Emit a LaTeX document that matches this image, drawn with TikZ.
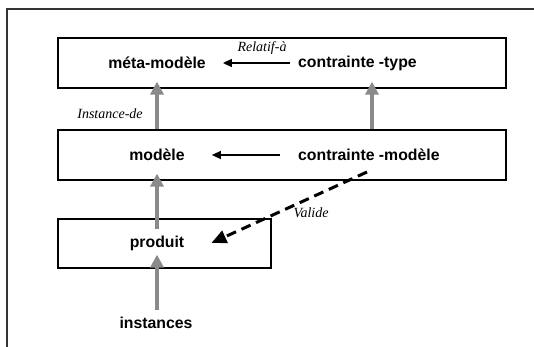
\documentclass[tikz,border=0pt]{standalone}
\usepackage{fontspec}
\setmainfont{Liberation Serif}
\setsansfont{Liberation Sans}
\usetikzlibrary{arrows.meta}
\definecolor{arrgray}{HTML}{8A8A8A}
\begin{document}
\begin{tikzpicture}[x=1pt,y=-1pt,
  box/.style={draw=black,line width=1.6pt,inner sep=0pt,anchor=north west},
  lbl/.style={font=\sffamily\bfseries\fontsize{15.8}{18}\selectfont,inner sep=0pt},
  itl/.style={font=\itshape\fontsize{14}{16}\selectfont,inner sep=0pt},
  garrow/.style={draw=arrgray,line width=4pt,-{Triangle[length=13pt,width=13pt,fill=arrgray]}},
  tarrow/.style={draw=black,line width=1.3pt,-{Triangle[length=9pt,width=8pt]}},
  darrow/.style={draw=black,line width=3pt,dash pattern=on 10pt off 6pt,-{Triangle[length=15pt,width=13pt]}}]
\useasboundingbox (0,0) rectangle (534,347);
\draw[line width=2pt,draw=black!80] (534,9) -- (7,9) -- (7,347);
% boxes
\node[box,minimum width=448pt,minimum height=50pt] (b1) at (57,37) {};
\node[box,minimum width=448pt,minimum height=50pt] (b2) at (57,129) {};
\node[box,minimum width=213pt,minimum height=49pt] (b3) at (57,218) {};
% texts
\node[lbl] (mm) at (157,63) {méta-modèle};
\node[lbl,anchor=west] (ct) at (298,63) {contrainte -type};
\node[lbl] (m) at (157,155) {modèle};
\node[lbl,anchor=west] (cm) at (298,155) {contrainte -modèle};
\node[lbl] (p) at (157,243) {produit};
\node[lbl] (inst) at (156,323) {instances};
\node[itl] (rel) at (262,48) {Relatif-à};
\node[itl] (ins) at (110,114) {Instance-de};
\node[itl] (val) at (311,213) {Valide};
% helper coordinates
\coordinate (rx) at (372,0);
\coordinate (ds) at (367,172);
% thin arrows
\draw[tarrow] ([xshift=-8pt]ct.west) -- ([xshift=17pt]mm.east);
\draw[tarrow] ([xshift=-18pt]cm.west) -- ([xshift=27pt]m.east);
% gray arrows
\draw[garrow] (b2.north -| mm) -- ([yshift=7pt]b1.south -| mm);
\draw[garrow] (b2.north -| rx) -- ([yshift=7pt]b1.south -| rx);
\draw[garrow] ([yshift=-11pt]b3.north -| mm) -- ([yshift=7pt]b2.south -| mm);
\draw[garrow] ([yshift=7pt]inst.north -| mm) -- ([yshift=14pt]b3.south -| mm);
% dashed arrow
\draw[darrow] (ds) -- ([xshift=27pt]p.east);
\end{tikzpicture}
\end{document}
